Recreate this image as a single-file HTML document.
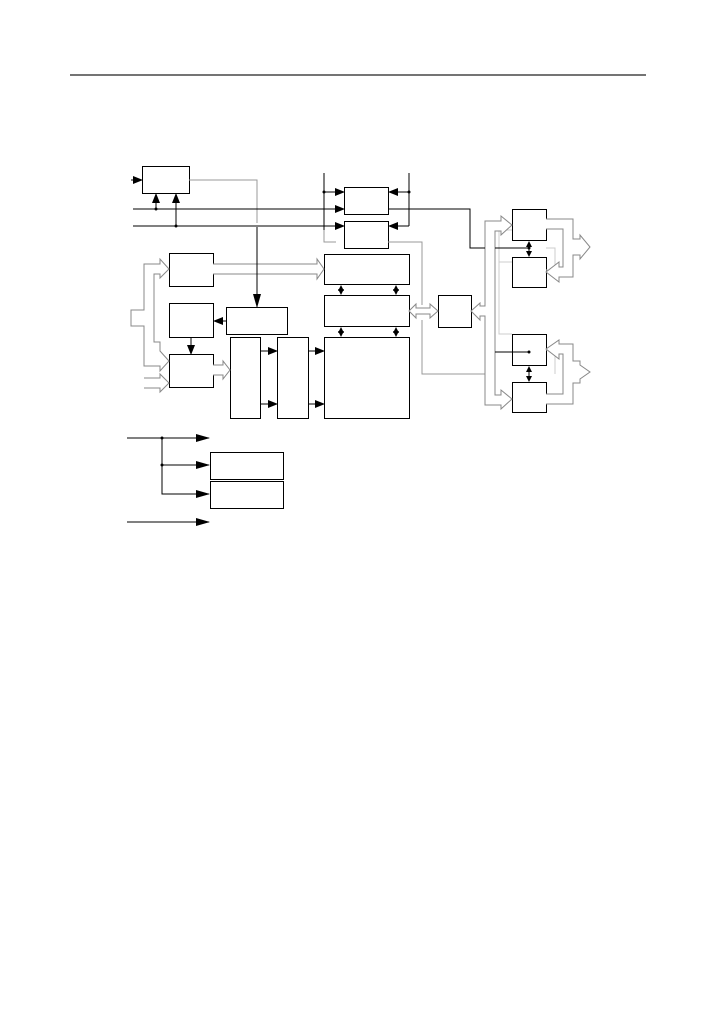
<!DOCTYPE html>
<html><head><meta charset="utf-8"><style>body{margin:0;background:#fff}svg{display:block}</style></head>
<body>
<svg width="717" height="1013" viewBox="0 0 717 1013" xmlns="http://www.w3.org/2000/svg">
<defs>
<marker id="a" markerWidth="10" markerHeight="8" refX="9" refY="4" orient="auto" markerUnits="userSpaceOnUse"><path d="M0,0L10,4L0,8z" fill="#000"/></marker>
<marker id="b" markerWidth="14" markerHeight="8" refX="13" refY="4" orient="auto" markerUnits="userSpaceOnUse"><path d="M0,0L14,4L0,8z" fill="#000"/></marker>
<marker id="s" markerWidth="6" markerHeight="6" refX="5" refY="3" orient="auto-start-reverse" markerUnits="userSpaceOnUse"><path d="M0,0L6,3L0,6z" fill="#000"/></marker>
</defs>
<line x1="70" y1="75" x2="646" y2="75" stroke="#222" stroke-width="1.2"/>
<g fill="#fff" stroke="#000" stroke-width="1">
<rect x="142.5" y="166.5" width="47" height="27"/>
<rect x="344.5" y="187.5" width="44" height="27"/>
<rect x="344.5" y="221.5" width="44" height="27"/>
<rect x="169.5" y="253.5" width="44" height="33"/>
<rect x="169.5" y="303.5" width="44" height="34"/>
<rect x="169.5" y="354.5" width="44" height="33"/>
<rect x="226.5" y="307.5" width="61" height="27"/>
<rect x="230.5" y="337.5" width="30" height="81"/>
<rect x="277.5" y="337.5" width="31" height="81"/>
<rect x="324.5" y="254.5" width="85" height="30"/>
<rect x="324.5" y="295.5" width="85" height="31"/>
<rect x="324.5" y="337.5" width="85" height="81"/>
<rect x="438.5" y="295.5" width="33" height="32"/>
<rect x="512.5" y="209.5" width="34" height="31"/>
<rect x="512.5" y="257.5" width="34" height="30"/>
<rect x="512.5" y="334.5" width="34" height="31"/>
<rect x="512.5" y="382.5" width="34" height="30"/>
<rect x="210.5" y="452.5" width="73" height="27"/>
<rect x="210.5" y="481.5" width="73" height="27"/>
</g>
<g fill="none" stroke="#999" stroke-width="1">
<polyline points="189,180 257,180 257,223"/>
<polyline points="324,230 324,242 336,242"/>
<polyline points="388,242 422,242 422,305"/>
<polyline points="422,320 422,374 485,374 485,395"/>
<polyline points="546,248 555,248 555,270 546,270" stroke="#ccc"/>
<polyline points="546,350 555,350 555,374" stroke="#ccc"/>
<polyline points="546,404 555,404 555,395" stroke="#ccc"/>
<polyline points="512,230 499,230 499,262" stroke="#ccc"/>
<polyline points="512,262 499,262 499,315 499,334 512,334" stroke="#ccc"/>
</g>
<g fill="#fff" stroke="#888" stroke-width="1">
<path d="M213,264 L317,264 L317,259 L324,269 L317,279 L317,274 L213,274"/>
<path d="M213,365 L223,365 L223,361 L230,370 L223,379 L223,375 L213,375"/>
<path d="M144,310 L144,264 L160,264 L160,259 L169,269 L160,278 L160,274 L154,274 L154,342 L160,342 L160,351 L169,361 L160,371 L160,366 L144,366 L144,326 L131,326 L131,310 Z"/>
<path d="M144,378 L160,378 L160,374 L169,383 L160,392 L160,388 L144,388"/>
<path d="M409,311 L416,304 L416,308 L430,308 L430,304 L438,311 L430,318 L430,314 L416,314 L416,318 Z"/>
<path d="M471,311 L480,303 L480,306 L485,306 L485,221 L501,221 L501,216 L512,225 L501,235 L501,231 L495,231 L495,395 L501,395 L501,390 L512,399 L501,409 L501,405 L485,405 L485,316 L480,316 L480,320 Z"/>
<path d="M546,219 L573,219 L573,239 L580,239 L580,235 L590,247 L580,259 L580,255 L573,255 L573,277 L559,277 L559,282 L546,272 L559,262 L559,267 L563,267 L563,229 L546,229"/>
<path d="M546,404 L573,404 L573,383 L580,383 L580,379 L590,372 L580,365 L580,361 L573,361 L573,344 L559,344 L559,340 L546,349 L559,359 L559,354 L563,354 L563,394 L546,394"/>
</g>
<g fill="none" stroke="#000" stroke-width="1">
<line x1="131" y1="180" x2="142" y2="180" marker-end="url(#a)"/>
<line x1="133" y1="209" x2="344" y2="209" marker-end="url(#a)"/>
<line x1="133" y1="226" x2="344" y2="226" marker-end="url(#a)"/>
<line x1="156" y1="209" x2="156" y2="194" marker-end="url(#a)"/>
<line x1="176" y1="226" x2="176" y2="194" marker-end="url(#a)"/>
<line x1="324" y1="173" x2="324" y2="230"/>
<line x1="409" y1="173" x2="409" y2="226"/>
<line x1="324" y1="192" x2="344" y2="192" marker-end="url(#a)"/>
<line x1="409" y1="192" x2="389" y2="192" marker-end="url(#a)"/>
<line x1="409" y1="226" x2="389" y2="226" marker-end="url(#a)"/>
<line x1="257" y1="227" x2="257" y2="307" marker-end="url(#b)"/>
<line x1="226" y1="321" x2="214" y2="321" marker-end="url(#a)"/>
<line x1="191" y1="338" x2="191" y2="354" marker-end="url(#a)"/>
<line x1="260" y1="351" x2="277" y2="351" marker-end="url(#a)"/>
<line x1="260" y1="404" x2="277" y2="404" marker-end="url(#a)"/>
<line x1="308" y1="351" x2="324" y2="351" marker-end="url(#a)"/>
<line x1="308" y1="404" x2="324" y2="404" marker-end="url(#a)"/>
<polyline points="388,209 470,209 470,248 485,248"/>
<line x1="495" y1="248" x2="529" y2="248"/>
<line x1="495" y1="352" x2="529" y2="352"/>
<line x1="341" y1="286" x2="341" y2="294" marker-start="url(#s)" marker-end="url(#s)"/>
<line x1="396" y1="286" x2="396" y2="294" marker-start="url(#s)" marker-end="url(#s)"/>
<line x1="341" y1="328" x2="341" y2="336" marker-start="url(#s)" marker-end="url(#s)"/>
<line x1="396" y1="328" x2="396" y2="336" marker-start="url(#s)" marker-end="url(#s)"/>
<line x1="529" y1="242" x2="529" y2="256" marker-start="url(#s)" marker-end="url(#s)"/>
<line x1="529" y1="367" x2="529" y2="381" marker-start="url(#s)" marker-end="url(#s)"/>
<line x1="127" y1="438" x2="209" y2="438" marker-end="url(#b)"/>
<polyline points="162,438 162,494 209,494" marker-end="url(#b)"/>
<line x1="162" y1="465" x2="209" y2="465" marker-end="url(#b)"/>
<line x1="127" y1="522" x2="209" y2="522" marker-end="url(#b)"/>
</g>
<g fill="#000">
<circle cx="156" cy="209" r="1.5"/><circle cx="176" cy="226" r="1.5"/>
<circle cx="324" cy="192" r="1.5"/><circle cx="409" cy="192" r="1.5"/>
<circle cx="162" cy="438" r="1.5"/><circle cx="162" cy="465" r="1.5"/>
<circle cx="529" cy="248" r="1.5"/><circle cx="529" cy="352" r="1.5"/>
</g>
</svg>
</body></html>
